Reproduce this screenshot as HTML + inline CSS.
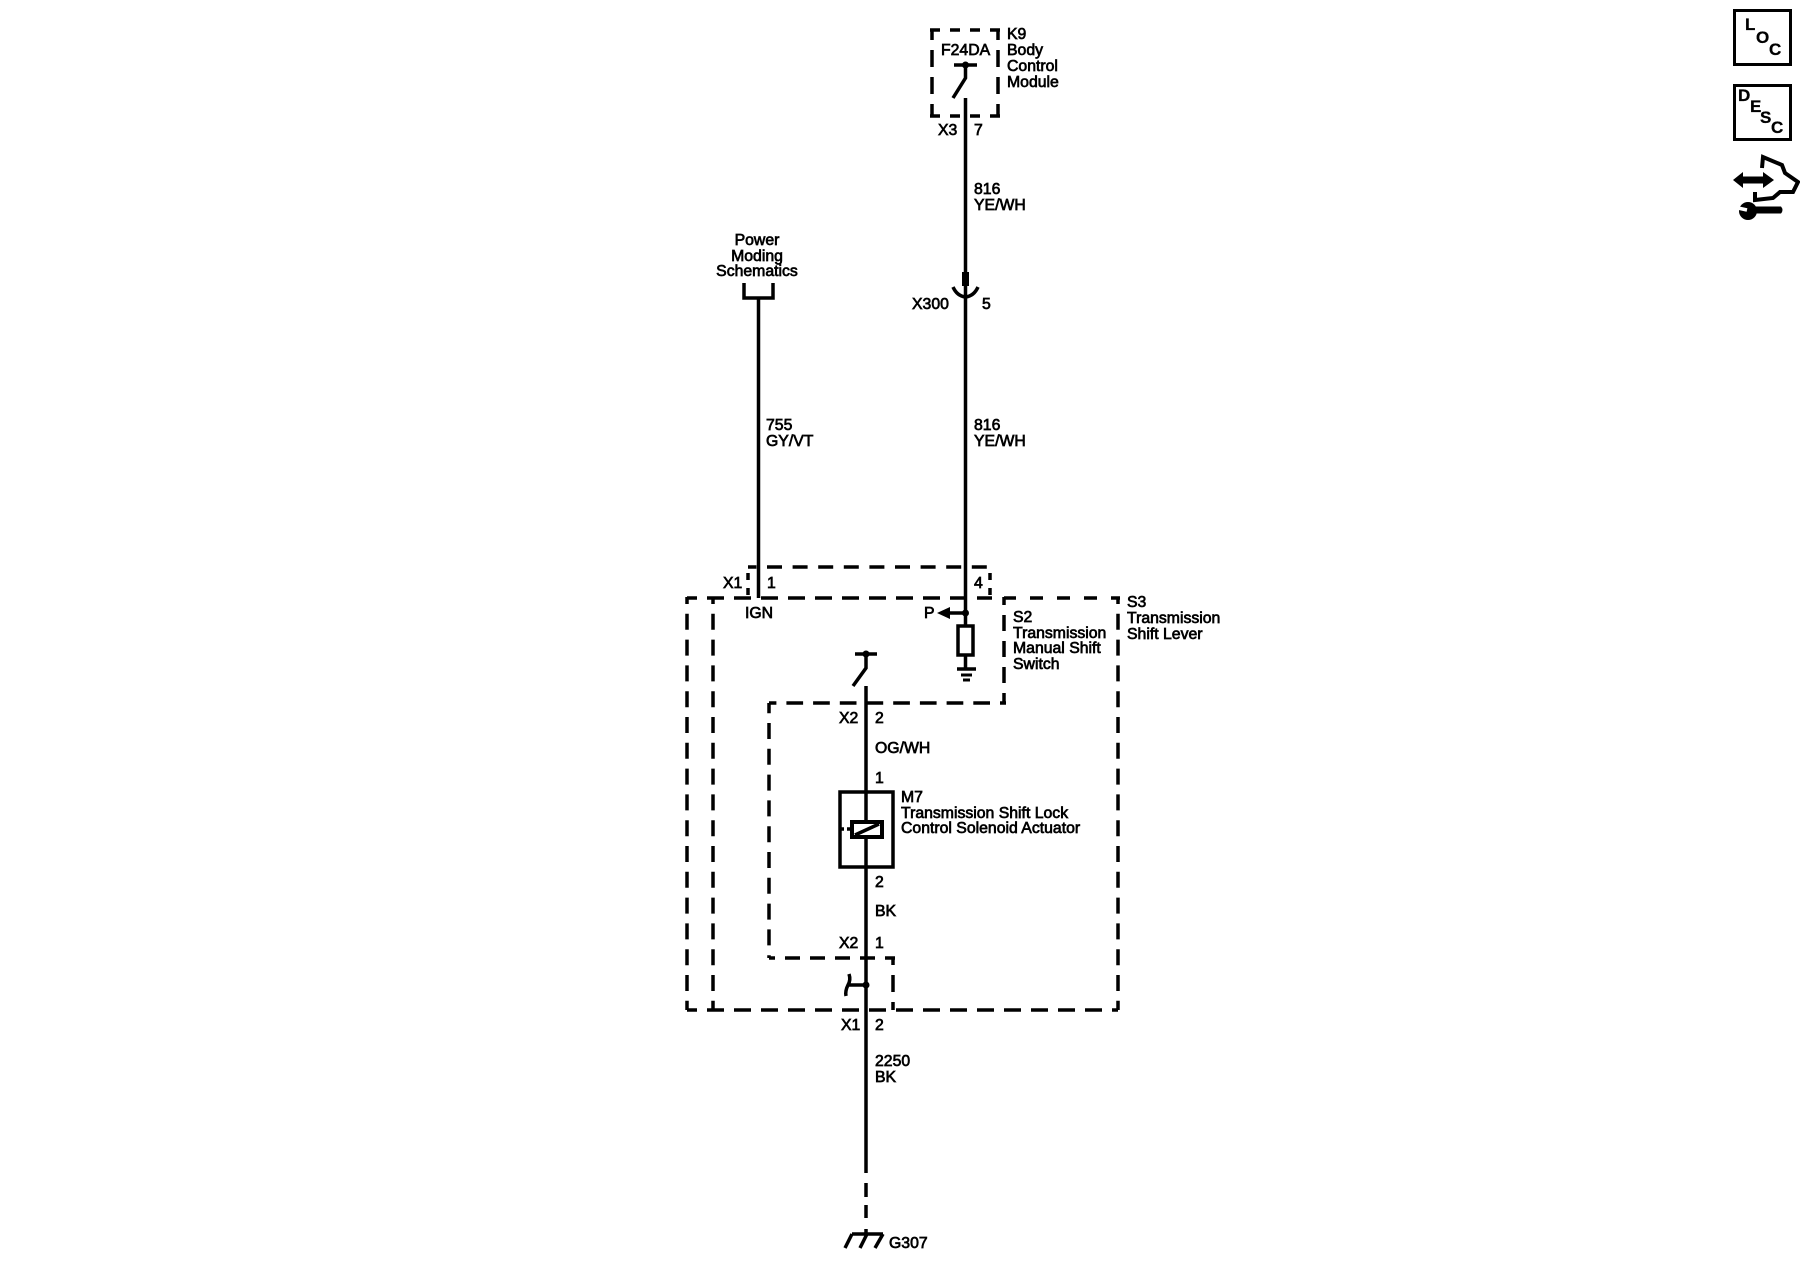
<!DOCTYPE html>
<html><head><meta charset="utf-8"><style>
html,body{margin:0;padding:0;background:#fff}
svg{display:block}
text{font-family:"Liberation Sans",Arial,sans-serif;font-size:15.8px;fill:#000;stroke:#000;stroke-width:.7}
.w{stroke:#000;stroke-width:3.5;fill:none}
.d{stroke:#000;stroke-width:3.5;fill:none}
.i{font-size:17px;font-weight:bold;stroke-width:.3}
</style></head><body>
<svg width="1800" height="1280" viewBox="0 0 1800 1280" xmlns="http://www.w3.org/2000/svg">
<!-- K9 -->
<path class="d" stroke-dasharray="10 10" d="M930 30H1000"/>
<path class="d" stroke-dasharray="10 10" d="M930 116H1000"/>
<path class="d" stroke-width="4" stroke-dasharray="17 10" stroke-dashoffset="7" d="M932 30V116"/>
<path class="d" stroke-width="4" stroke-dasharray="17 10" stroke-dashoffset="7" d="M998 30V116"/>
<path class="w" d="M954 65H977M965.5 65V78L953 98M965.5 98V272"/>
<circle cx="965.5" cy="65" r="3.5"/>
<rect x="962" y="272" width="7" height="14"/>
<path class="w" stroke-width="4" d="M953 287Q957 296 965.5 297Q974 296 978 287"/>
<text x="941" y="55">F24DA</text>
<text x="1007" y="39">K9</text><text x="1007" y="55">Body</text><text x="1007" y="71">Control</text><text x="1007" y="87">Module</text>
<text x="938" y="135">X3</text><text x="974" y="135">7</text>
<text x="974" y="194">816</text><text x="974" y="210">YE/WH</text>
<text x="912" y="309">X300</text><text x="982" y="309">5</text>
<text x="974" y="430">816</text><text x="974" y="446">YE/WH</text>
<!-- Power moding -->
<text x="757" y="245" text-anchor="middle">Power</text><text x="757" y="261" text-anchor="middle">Moding</text><text x="757" y="276" text-anchor="middle">Schematics</text>
<path class="w" stroke-width="4" d="M744 283V298H773V283"/>
<path class="w" d="M758.5 298V598"/>
<text x="766" y="430">755</text><text x="766" y="446">GY/VT</text>
<!-- Boxes -->
<path class="d" stroke-dasharray="15 10.6" stroke-dashoffset="6.6" d="M748 567H990"/>
<path class="d" stroke-dasharray="7 8" d="M748 573V596"/>
<path class="d" stroke-dasharray="7 8" d="M990 573V596"/>
<path class="d" stroke-dasharray="17 10" stroke-dashoffset="7" d="M687 598H992"/>
<path class="d" stroke-dasharray="16 9.8" stroke-dashoffset="9" d="M687 597V1010"/>
<path class="d" stroke-width="4.2" stroke-dasharray="16 9.8" stroke-dashoffset="9" d="M713 597V1010"/>
<path class="d" stroke-dasharray="17 10" stroke-dashoffset="7" d="M687 1010H1118"/>
<path class="d" stroke-dasharray="16 9.8" stroke-dashoffset="9" d="M1118 597V1010"/>
<path class="d" stroke-dasharray="13 14" stroke-dashoffset="1" d="M1004 598H1120"/>
<path class="d" stroke-dasharray="16 10" stroke-dashoffset="8" d="M1004 597V703"/>
<path class="d" stroke-dasharray="16.7 10" stroke-dashoffset="10.7" d="M1006 703H769"/>
<path class="d" stroke-dasharray="16 9.8" stroke-dashoffset="5.8" d="M769 703V958"/>
<path class="d" stroke-dasharray="15 10" stroke-dashoffset="9" d="M769 958H895"/>
<path class="d" stroke-dasharray="17 10" stroke-dashoffset="10" d="M893 958V1010"/>
<!-- right wire and P -->
<path class="w" d="M965.5 286V625M965.5 655V669"/>
<circle cx="965.5" cy="613" r="3.5"/>
<path class="w" d="M965.5 613H948"/><path d="M937 613L950 607V619Z"/>
<rect x="958" y="626" width="15" height="29" fill="#fff" stroke="#000" stroke-width="3.5"/>
<path class="w" d="M957 669H976"/><path stroke="#000" stroke-width="3" d="M961 675H972"/><path stroke="#000" stroke-width="3" d="M963 680H970"/>
<text x="723" y="588">X1</text><text x="767" y="588">1</text><text x="974" y="588">4</text>
<text x="745" y="618">IGN</text><text x="924" y="618">P</text>
<text x="1013" y="622">S2</text><text x="1013" y="638">Transmission</text><text x="1013" y="653">Manual Shift</text><text x="1013" y="669">Switch</text>
<text x="1127" y="607">S3</text><text x="1127" y="623">Transmission</text><text x="1127" y="639">Shift Lever</text>
<!-- Center wire -->
<path class="w" d="M855 654H877M866 654V668L853 686M866 686V1173"/>
<circle cx="866" cy="654" r="3.5"/>
<path class="w" d="M866 1183V1197M866 1205V1218M866 1229V1234"/>
<text x="839" y="723">X2</text><text x="875" y="723">2</text>
<text x="875" y="753">OG/WH</text><text x="875" y="783">1</text>
<rect x="840" y="792" width="53" height="75" class="w"/>
<rect x="852" y="822" width="30" height="15" fill="#fff" stroke="#000" stroke-width="4"/>
<path class="w" d="M855 835L879 824"/>
<path class="w" stroke-dasharray="4 3" d="M840 829H852"/>
<text x="901" y="802">M7</text><text x="901" y="818">Transmission Shift Lock</text><text x="901" y="833">Control Solenoid Actuator</text>
<text x="875" y="887">2</text><text x="875" y="916">BK</text>
<text x="839" y="948">X2</text><text x="875" y="948">1</text>
<circle cx="866" cy="985" r="3.5"/>
<path class="w" d="M866 985H848M849 974Q851 980 848 985Q845 991 846 996"/>
<text x="841" y="1030">X1</text><text x="875" y="1030">2</text>
<text x="875" y="1066">2250</text><text x="875" y="1082">BK</text>
<!-- ground -->
<path class="w" d="M852 1234H883M852 1234L845 1248M867 1234L860 1248M883 1234L875 1248"/>
<text x="889" y="1248">G307</text>
<!-- Icons -->
<rect x="1734.5" y="10.5" width="56" height="54" fill="none" stroke="#000" stroke-width="3"/>
<text class="i" x="1745" y="30">L</text><text class="i" x="1756" y="43">O</text><text class="i" x="1769" y="55">C</text>
<rect x="1734.5" y="85.5" width="56" height="54" fill="none" stroke="#000" stroke-width="3"/>
<text class="i" x="1738" y="101">D</text><text class="i" x="1750" y="112">E</text><text class="i" x="1760" y="123">S</text><text class="i" x="1771" y="133">C</text>
<path d="M1733 180L1743 172V176.5H1763V172L1774 180L1763 188V183.5H1743V188Z"/>
<path fill="none" stroke="#000" stroke-width="4" d="M1762 168L1763 157L1782 165L1785 173L1798 182L1793 192L1780 192L1773 198L1755 200V192"/>
<path d="M1755 206.5H1781Q1784 210 1781 213.5H1755Z"/>
<circle cx="1748" cy="211" r="9"/>
<path stroke="#fff" stroke-width="3.5" d="M1738 208L1747 210"/>
</svg>
</body></html>
